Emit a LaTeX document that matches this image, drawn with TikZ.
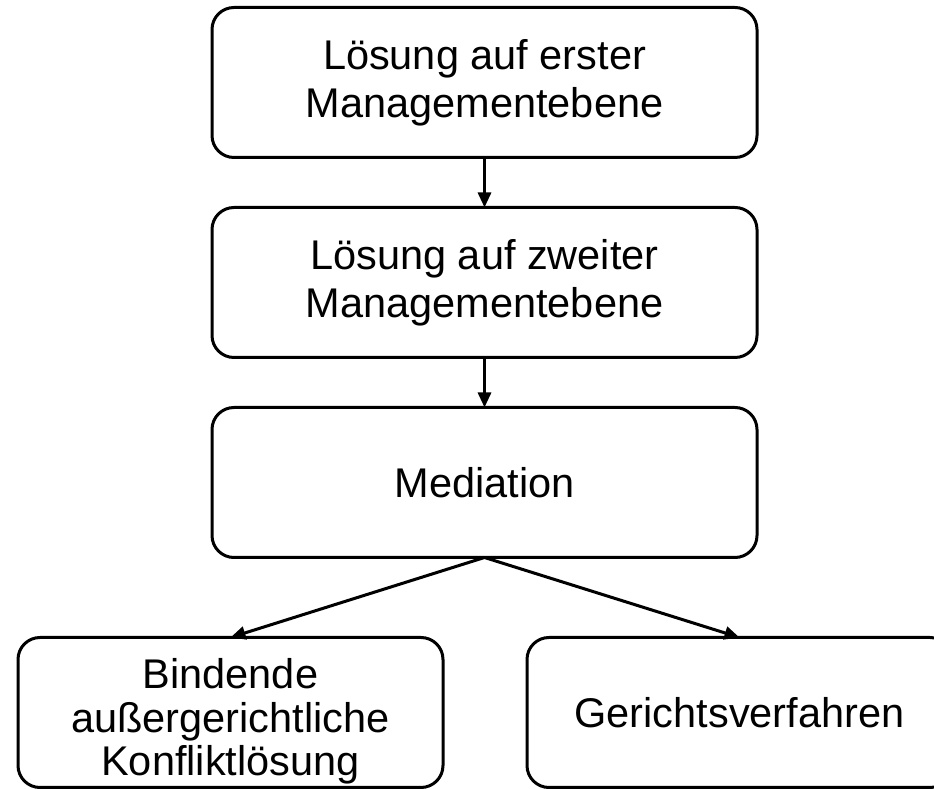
\documentclass[tikz,border=0pt]{standalone}
\usepackage{fontspec}
\setmainfont{Liberation Sans}
\usetikzlibrary{positioning,arrows.meta}

\begin{document}
\begin{tikzpicture}[x=1pt,y=1pt,
  every node/.style={minimum width=545pt,minimum height=150pt,align=center,
    outer sep=0pt,font=\fontsize{41.5pt}{48pt}\selectfont},%
  re/.style={draw,rounded corners=22pt,line width=3pt},%
  sm/.style={minimum width=425pt},%
  e/.style={-{Triangle[length=15pt,width=13pt]},line width=3pt},%
  node distance=50pt
  ]
  \useasboundingbox (0,0) rectangle (934,789);

  \node (first) [re] at (484.5,706.5) {Lösung auf erster\\Managementebene};

  \node (second) [re,below=of first] {Lösung auf zweiter\\Managementebene};

  \node (med) [re,below=of second] {Mediation};

  \node (bind) [re,sm,below=80pt of med,xshift=-254pt,inner ysep=0pt,
  text height=137pt,text depth=10pt,
  font=\fontsize{41.5pt}{43.5pt}\selectfont] {Bindende\\außergerichtliche\\Konfliktlösung};

  \node (court) [re,sm,below=80pt of med,xshift=255pt] {Gerichtsverfahren};

  \draw [e] (first) -- (second);
  \draw [e] (second) -- (med);
  \draw [e] (med.south) -- (bind.north);
  \draw [e] (med.south) -- (court.north);
\end{tikzpicture}
\end{document}
